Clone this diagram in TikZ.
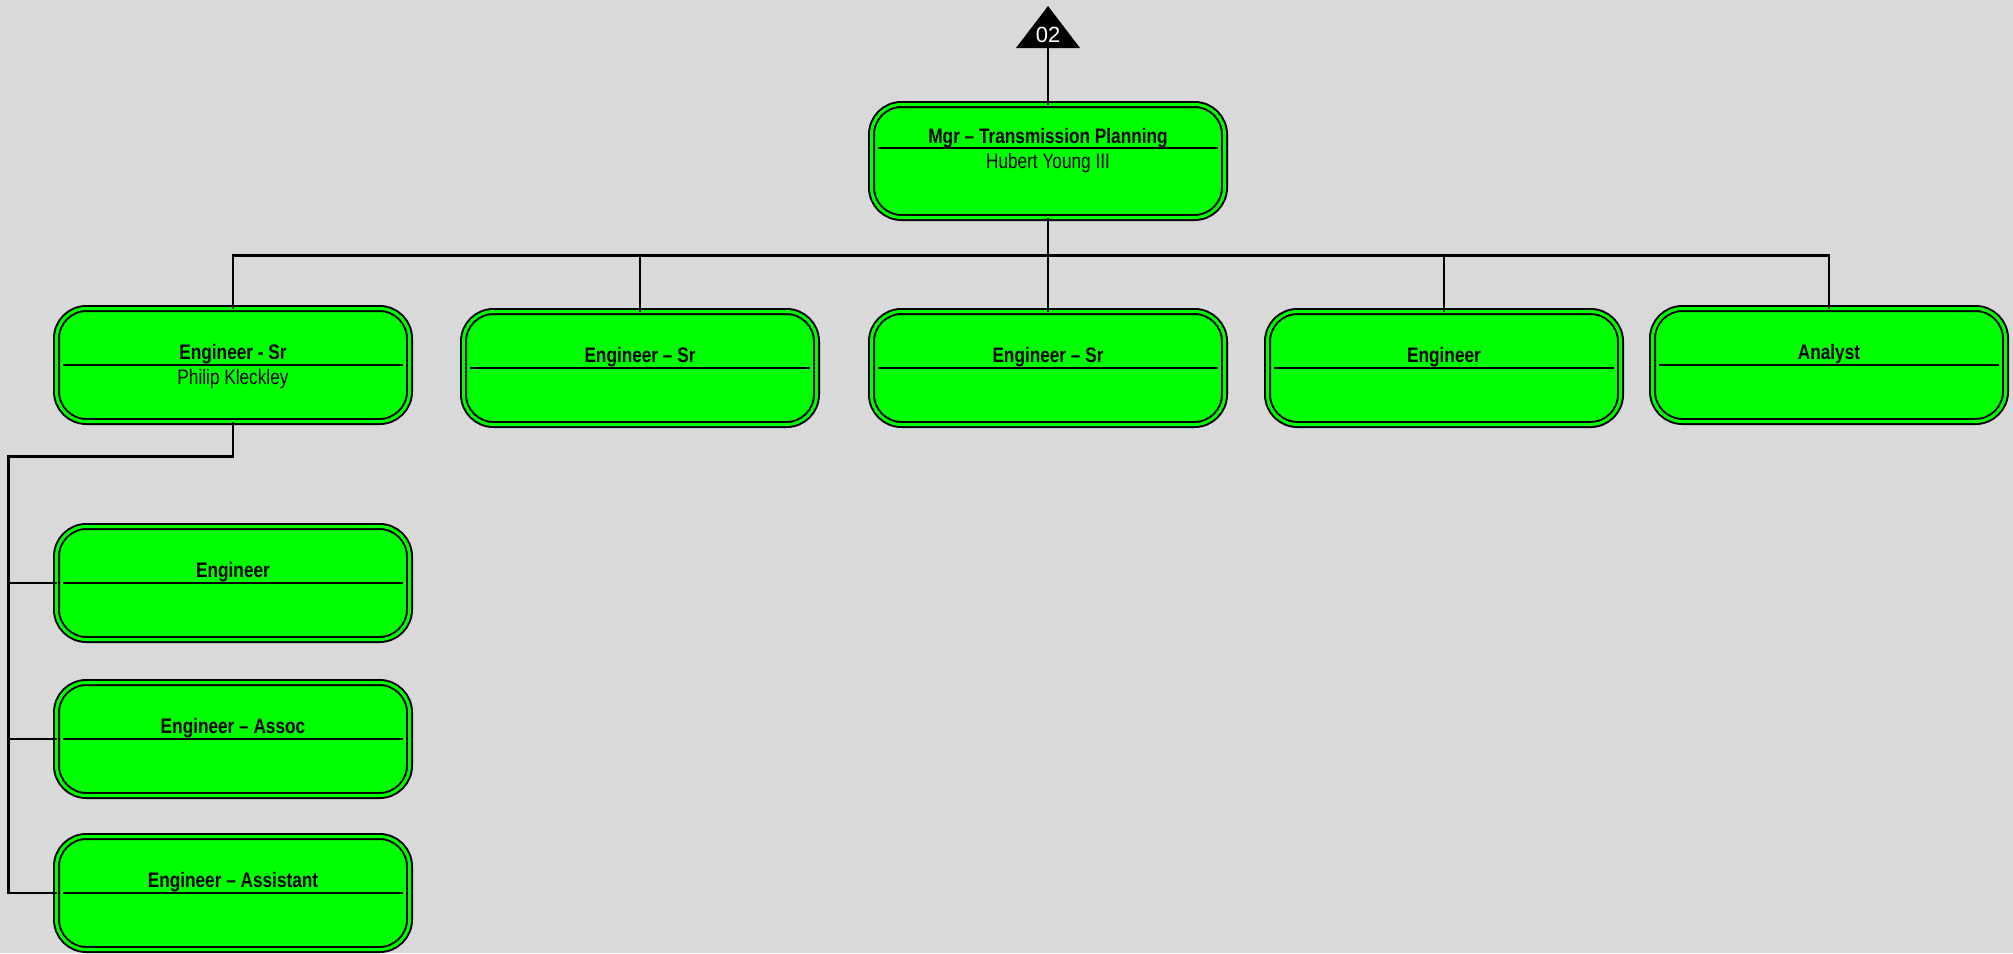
\documentclass[tikz,border=0pt]{standalone}
\usepackage{fontspec}
\setmainfont{Liberation Sans}[FakeStretch=0.82]
\newfontfamily\zahlfont{Liberation Sans}
\usepackage{tikz}
\usetikzlibrary{calc,positioning}
\definecolor{hgrau}{RGB}{217,217,217}
\definecolor{gruen}{RGB}{0,255,0}

\begin{document}
\begin{tikzpicture}[x=0.5pt,y=-0.5pt,
  stelle/.style={draw=black,line width=1pt,double=gruen,double distance=1.5pt,fill=gruen,rounded corners=15pt,minimum width=176.5pt,minimum height=56.5pt,inner sep=0pt,outer sep=0pt},
  titel/.style={anchor=base,inner sep=0pt,font=\fontsize{10.5}{12}\selectfont\bfseries},
  person/.style={anchor=base,inner sep=0pt,font=\fontsize{10.5}{12}\selectfont},
  trenn/.style={line width=0.9pt},
  linie/.style={line width=1.2pt}]
%Hintergrund, Pixelmasse wie im Bild (y nach unten)
\fill[hgrau] (0,0) rectangle (2013,953);
\useasboundingbox (0,0) rectangle (2013,953);
%Dreieck oben
\fill[black] (1016,48) -- (1048,6) -- (1080,48) -- cycle;
\coordinate (dreieck) at (1048,48);
\node[anchor=base,inner sep=0pt,text=white,font=\zahlfont\fontsize{11}{12}\selectfont] (nr) at (1048,42) {02};
%Chef
\node[stelle] (mgr) at (1048,161) {};
\draw[trenn] ([xshift=3.25pt,yshift=6.5pt]mgr.west) -- ([xshift=-3.25pt,yshift=6.5pt]mgr.east);
\node[titel] (mgr-t) at ([yshift=9pt]mgr.center) {Mgr – Transmission Planning};
\node[person] (mgr-p) at ([yshift=-3.5pt]mgr.center) {Hubert Young III};
%zweite Ebene
\foreach \n/\x/\y/\t in {A/233/365/Engineer - Sr,B/640/368/Engineer – Sr,C/1048/368/Engineer – Sr,D/1444/368/Engineer,E/1829/365/Analyst,K1/233/583/Engineer,K2/233/739/Engineer – Assoc,K3/233/893/Engineer – Assistant}{
\node[stelle] (\n) at (\x,\y) {};
\draw[trenn] ([xshift=3.25pt]\n.west) -- ([xshift=-3.25pt]\n.east);
\node[titel] (\n-t) at ([yshift=3pt]\n.center) {\t};
}
\node[person] (A-p) at ([yshift=-9.5pt]A.center) {Philip Kleckley};
%Verbindungen
\draw[linie] (dreieck) -- (mgr.north);
\foreach \n in {A,B,C,D,E}
\draw[linie] (mgr.south) -- ++(0,38) -| (\n.north);
\foreach \n in {K1,K2,K3}
\draw[linie] (A.south) -- ++(0,35) -| ([xshift=-24pt]\n.west) -- (\n.west);
\end{tikzpicture}
\end{document}
